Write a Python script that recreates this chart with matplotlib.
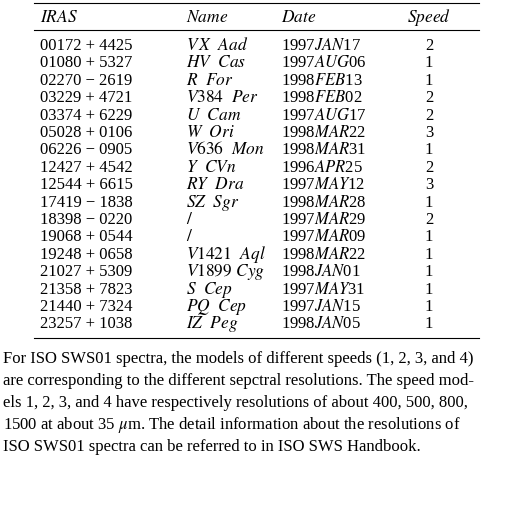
import matplotlib.pyplot as plt

plt.rcParams['font.family'] = ['Liberation Serif', 'DejaVu Serif']
plt.rcParams['mathtext.fontset'] = 'stix'

iras = ["00172 + 4425", "01080 + 5327", "02270 − 2619", "03229 + 4721", "03374 + 6229",
        "05028 + 0106", "06226 − 0905", "12427 + 4542", "12544 + 6615", "17419 − 1838",
        "18398 − 0220", "19068 + 0544", "19248 + 0658", "21027 + 5309", "21358 + 7823",
        "21440 + 7324", "23257 + 1038"]
names = [r"$V\,X\ \ Aad$", r"$HV\ \ Cas$", r"$R\ \ For$", r"$V384\ \ Per$", r"$U\ \ Cam$",
         r"$W\ \ Ori$", r"$V636\ \ Mon$", r"$Y\ \ CVn$", r"$RY\ \ Dra$", r"$SZ\ \ Sgr$",
         r"$/$", r"$/$", r"$V1421\ \ Aql$", r"$V1899\ Cyg$", r"$S\ \ Cep$",
         r"$PQ\ \ Cep$", r"$IZ\ \ Peg$"]
dates = ["1997$JAN$17", "1997$AUG$06", "1998$FEB$13", "1998$FEB$02", "1997$AUG$17",
         "1998$MAR$22", "1998$MAR$31", "1996$APR$25", "1997$MAY$12", "1998$MAR$28",
         "1997$MAR$29", "1997$MAR$09", "1998$MAR$22", "1998$JAN$01", "1997$MAY$31",
         "1997$JAN$15", "1998$JAN$05"]
speeds = [2, 1, 1, 2, 2, 3, 1, 2, 3, 1, 2, 1, 1, 1, 1, 1, 1]

headers = [r"$IRAS$", r"$Name$", r"$Date$", r"$Speed$"]

paragraph = [
    "For ISO SWS01 spectra, the models of different speeds (1, 2, 3, and 4)",
    "are corresponding to the different sepctral resolutions. The speed mod-",
    "els 1, 2, 3, and 4 have respectively resolutions of about 400, 500, 800,",
    r"1500 at about 35 $\mu$m. The detail information about the resolutions of",
    "ISO SWS01 spectra can be referred to in ISO SWS Handbook.",
]

W, H = 511, 516
fig = plt.figure(figsize=(W / 100, H / 100), dpi=100)
ax = fig.add_axes([0, 0, 1, 1])
ax.set_xlim(0, W)
ax.set_ylim(H, 0)
ax.axis('off')

fs = 12
col_x = [40, 186, 281, 429]

ax.plot([34, 479], [3, 3], color='black', lw=0.8)
ax.plot([34, 479], [30, 30], color='black', lw=0.8)
ax.plot([34, 479], [338, 338], color='black', lw=0.8)

for i, h in enumerate(headers):
    ha = 'center' if i == 3 else 'left'
    ax.text(col_x[i], 22, h, fontsize=fs + 0.5, ha=ha, va='baseline')

y0, dy = 50, 17.4
for r in range(len(iras)):
    y = y0 + r * dy
    ax.text(col_x[0], y, iras[r], fontsize=fs, va='baseline')
    ax.text(col_x[1], y, names[r], fontsize=fs + 0.5, va='baseline')
    ax.text(col_x[2], y, dates[r], fontsize=fs, va='baseline')
    ax.text(col_x[3], y, str(speeds[r]), fontsize=fs, ha='center', va='baseline')

for k, line in enumerate(paragraph):
    ax.text(3, 363 + k * 22, line, fontsize=fs, va='baseline')

fig.savefig('out.png', dpi=100)
